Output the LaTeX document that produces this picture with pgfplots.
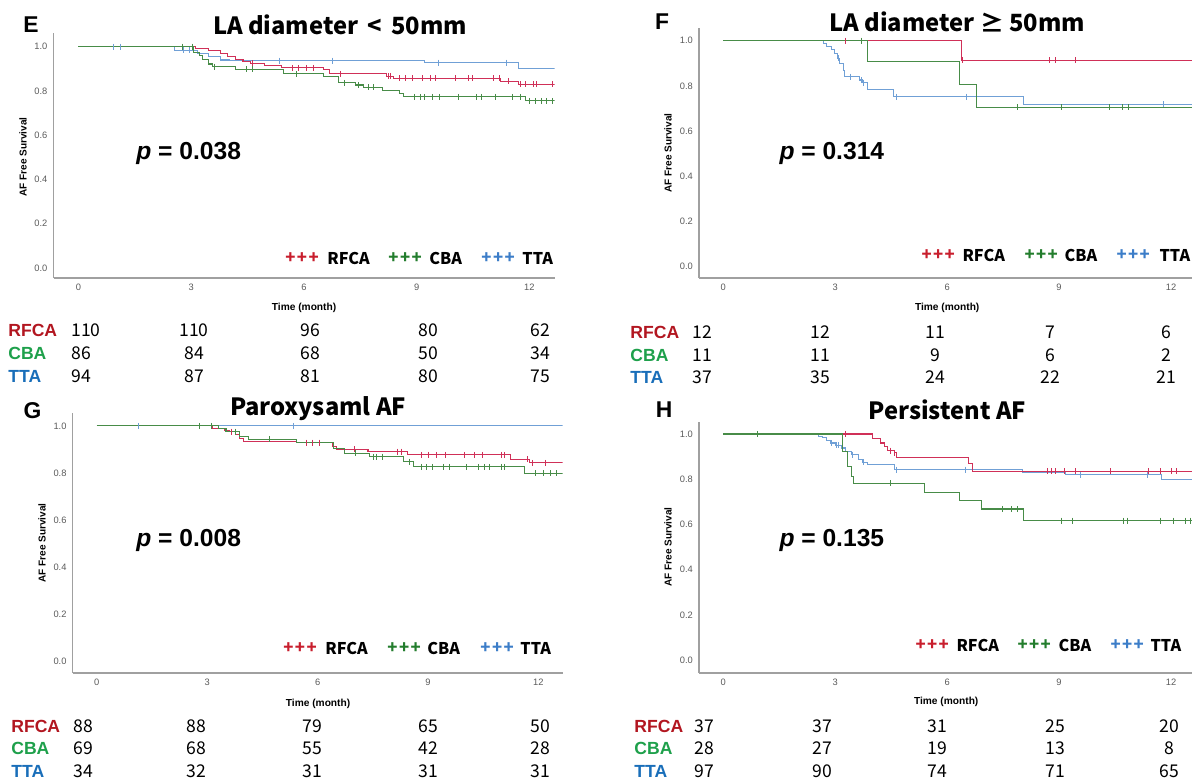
\documentclass[border=0pt]{standalone}
\usepackage{pgfplots}
\pgfplotsset{compat=1.18}
\usepackage{fontspec}
\setmainfont{Liberation Sans}
\newfontfamily\kfont{Noto Sans CJK KR}
\newcommand\fs[1]{\fontsize{#1}{#1}\selectfont}
\definecolor{lred}{RGB}{208,48,88}
\definecolor{lgreen}{RGB}{72,140,72}
\definecolor{lblue}{RGB}{112,160,214}
\definecolor{pred}{RGB}{200,30,45}
\definecolor{pgreen}{RGB}{35,125,45}
\definecolor{pblue}{RGB}{60,125,200}
\definecolor{tred}{RGB}{178,22,32}
\definecolor{tgreen}{RGB}{30,160,75}
\definecolor{tblue}{RGB}{25,110,185}
\definecolor{axgray}{RGB}{160,160,160}
\definecolor{tickgray}{RGB}{90,90,90}
\pgfplotsset{
 km/.style={scale only axis, anchor=south west, axis lines=left,
   axis line style={-, draw=axgray, line width=0.9pt},
   every outer x axis line/.append style={-}, every outer y axis line/.append style={-},
   xtick={0,3,6,9,12}, ytick={0,0.2,0.4,0.6,0.8,1},
   major tick length=0pt,
   tick label style={font=\fs{5.3}, text=tickgray},
   /pgf/number format/assume math mode=true,
   yticklabel style={/pgf/number format/fixed, /pgf/number format/fixed zerofill, /pgf/number format/precision=1}},
 kml/.style={const plot, line width=0.6pt, no marks},
 cens/.style={only marks, mark=|, mark size=1.7pt, mark options={line width=0.5pt}},
}
\newcommand\rrow[8]{%
 \node[anchor=west, font=\fs{10}\bfseries, text=#3] at (\lx,#1) {#2};
 \node[anchor=west, font=\kfont\fs{10}] at (\cA,#1) {#4};
 \node[font=\kfont\fs{10}] at (\cB,#1) {#5};
 \node[font=\kfont\fs{10}] at (\cC,#1) {#6};
 \node[font=\kfont\fs{10}] at (\cD,#1) {#7};
 \node[font=\kfont\fs{10}] at (\cE,#1) {#8};}
\newcommand\lgd[7]{%
 \node[anchor=west,text=pred,font=\kfont\fs{9.5}\bfseries] at (#2,#1) {+\kern0.8pt+\kern0.8pt+};
 \node[anchor=west,font=\kfont\fs{9.2}\bfseries] at (#3,#1) {RFCA};
 \node[anchor=west,text=pgreen,font=\kfont\fs{9.5}\bfseries] at (#4,#1) {+\kern0.8pt+\kern0.8pt+};
 \node[anchor=west,font=\kfont\fs{9.2}\bfseries] at (#5,#1) {CBA};
 \node[anchor=west,text=pblue,font=\kfont\fs{9.5}\bfseries] at (#6,#1) {+\kern0.8pt+\kern0.8pt+};
 \node[anchor=west,font=\kfont\fs{9.2}\bfseries] at (#7,#1) {TTA};}
\begin{document}
\begin{tikzpicture}
\path[use as bounding box] (0,0) rectangle (23.84cm,-15.64cm);
% ---------- E ----------
\begin{axis}[km, at={(1.072cm,-5.56cm)}, width=10.02cm, height=4.90cm, xmin=-0.66, xmax=12.67, ymin=-0.045, ymax=1.062]
\addplot[kml, lblue] coordinates {(0,1) (2.55,0.985) (3.16,0.970) (3.47,0.955) (3.77,0.940) (4.02,0.937) (9.21,0.928) (11.70,0.902) (12.67,0.902)};
\addplot[cens, lblue] coordinates {(0.92,1) (1.13,1) (2.80,0.985) (2.96,0.985) (5.35,0.937) (6.75,0.937) (9.59,0.928) (11.39,0.928)};
\addplot[kml, lred] coordinates {(0,1) (3.11,0.992) (3.47,0.985) (3.77,0.970) (3.97,0.955) (4.18,0.943) (4.38,0.932) (4.58,0.925) (4.94,0.916) (5.40,0.905) (6.51,0.895) (6.67,0.877) (8.19,0.867) (8.39,0.857) (11.24,0.845) (11.70,0.831) (12.67,0.831)};
\addplot[cens, lred] coordinates {(4.62,0.925) (5.70,0.905) (5.85,0.905) (6.06,0.905) (6.26,0.905) (6.97,0.877) (8.24,0.867) (8.29,0.867) (8.55,0.857) (8.70,0.857) (8.90,0.857) (9.16,0.857) (9.36,0.857) (9.51,0.857) (10.02,0.857) (10.38,0.857) (10.48,0.857) (11.04,0.857) (11.19,0.857) (11.44,0.845) (11.75,0.831) (11.90,0.831) (12.10,0.831) (12.20,0.831) (12.62,0.831)};
\addplot[kml, lgreen] coordinates {(0,1) (3.06,0.975) (3.21,0.962) (3.31,0.943) (3.47,0.922) (3.57,0.910) (4.18,0.898) (5.45,0.877) (6.51,0.864) (6.92,0.837) (7.38,0.827) (7.58,0.816) (8.09,0.804) (8.55,0.789) (8.65,0.774) (11.90,0.755) (12.67,0.755)};
\addplot[cens, lgreen] coordinates {(2.77,1) (3.03,1) (3.62,0.910) (4.48,0.898) (4.63,0.898) (5.80,0.877) (7.07,0.837) (7.45,0.827) (7.73,0.816) (7.84,0.816) (8.95,0.774) (9.11,0.774) (9.21,0.774) (9.41,0.774) (9.61,0.774) (10.12,0.774) (10.58,0.774) (10.73,0.774) (11.09,0.774) (11.54,0.774) (11.75,0.774) (12.00,0.755) (12.15,0.755) (12.31,0.755) (12.46,0.755) (12.61,0.755)};
\end{axis}
% ---------- F ----------
\begin{axis}[km, at={(13.98cm,-5.56cm)}, width=9.94cm, height=5.0cm, xmin=-0.65, xmax=12.67, ymin=-0.05, ymax=1.056]
\addplot[kml, lred] coordinates {(0,1) (6.38,0.914) (12.67,0.914)};
\addplot[cens, lred] coordinates {(3.27,1) (6.40,0.914) (8.74,0.914) (8.90,0.914) (9.43,0.914)};
\addplot[kml, lblue] coordinates {(0,1) (2.68,0.988) (2.77,0.974) (2.89,0.959) (2.99,0.944) (3.05,0.922) (3.12,0.900) (3.22,0.866) (3.25,0.841) (3.66,0.826) (3.73,0.814) (3.86,0.782) (4.57,0.752) (8.05,0.718) (12.67,0.718)};
\addplot[cens, lblue] coordinates {(3.08,0.922) (3.42,0.841) (3.71,0.826) (3.77,0.814) (4.64,0.752) (6.51,0.752) (11.80,0.718)};
\addplot[kml, lgreen] coordinates {(0,1) (3.86,0.906) (6.33,0.804) (6.79,0.705) (12.67,0.705)};
\addplot[cens, lgreen] coordinates {(3.70,1) (7.88,0.705) (9.07,0.705) (10.36,0.705) (10.69,0.705) (10.85,0.705)};
\end{axis}
% ---------- G ----------
\begin{axis}[km, at={(1.454cm,-13.46cm)}, width=9.80cm, height=5.2cm, xmin=-0.655, xmax=12.66, ymin=-0.048, ymax=1.055]
\addplot[kml, lblue] coordinates {(0,1) (12.66,1)};
\addplot[cens, lblue] coordinates {(1.12,1) (5.33,1)};
\addplot[kml, lred] coordinates {(0,1) (3.15,0.990) (3.46,0.980) (3.61,0.976) (3.77,0.962) (3.87,0.948) (3.98,0.934) (5.43,0.929) (6.40,0.912) (6.52,0.901) (7.37,0.891) (8.44,0.877) (11.25,0.859) (11.77,0.844) (12.66,0.844)};
\addplot[cens, lred] coordinates {(3.67,0.976) (5.69,0.929) (5.85,0.929) (6.05,0.929) (6.99,0.901) (8.18,0.891) (8.29,0.891) (8.81,0.877) (9.01,0.877) (9.22,0.877) (9.48,0.877) (10.0,0.877) (10.26,0.877) (10.47,0.877) (10.99,0.877) (11.09,0.877) (11.71,0.859) (11.84,0.844) (12.18,0.844)};
\addplot[kml, lgreen] coordinates {(0,1) (3.30,0.990) (3.51,0.976) (3.87,0.955) (4.13,0.943) (5.43,0.929) (6.42,0.905) (6.73,0.884) (7.40,0.870) (8.34,0.849) (8.60,0.827) (11.61,0.800) (12.66,0.800)};
\addplot[cens, lgreen] coordinates {(2.78,1) (3.12,1) (3.77,0.976) (4.70,0.943) (7.04,0.884) (7.51,0.870) (7.61,0.870) (7.77,0.870) (8.49,0.849) (8.81,0.827) (8.96,0.827) (9.12,0.827) (9.43,0.827) (9.58,0.827) (10.05,0.827) (10.36,0.827) (10.52,0.827) (10.67,0.827) (10.99,0.827) (11.09,0.827) (11.92,0.800) (12.13,0.800) (12.34,0.800) (12.49,0.800)};
\end{axis}
% ---------- H ----------
\begin{axis}[km, at={(13.98cm,-13.46cm)}, width=9.94cm, height=5.02cm, xmin=-0.65, xmax=12.67, ymin=-0.0575, ymax=1.053]
\addplot[kml, lblue] coordinates {(0,1) (2.54,0.990) (2.67,0.985) (2.77,0.970) (2.87,0.960) (3.02,0.951) (3.17,0.938) (3.28,0.924) (3.43,0.909) (3.63,0.886) (3.73,0.875) (3.86,0.864) (4.59,0.842) (8.02,0.830) (9.16,0.820) (11.74,0.798) (12.67,0.798)};
\addplot[cens, lblue] coordinates {(2.89,0.960) (3.04,0.951) (3.09,0.951) (3.45,0.909) (3.75,0.875) (4.65,0.842) (6.50,0.842) (9.56,0.820) (11.37,0.820)};
\addplot[kml, lred] coordinates {(0,1) (4.01,0.978) (4.21,0.960) (4.31,0.945) (4.41,0.926) (4.59,0.916) (4.65,0.894) (6.57,0.869) (6.67,0.835) (12.67,0.835)};
\addplot[cens, lred] coordinates {(3.28,1) (4.49,0.926) (4.60,0.916) (8.70,0.835) (8.80,0.835) (8.90,0.835) (9.14,0.835) (9.44,0.835) (10.38,0.835) (11.39,0.835) (11.72,0.835) (12.0,0.835) (12.15,0.835)};
\addplot[kml, lgreen] coordinates {(0,1) (3.19,0.923) (3.33,0.857) (3.43,0.810) (3.48,0.783) (5.39,0.742) (6.34,0.706) (6.93,0.668) (8.04,0.617) (12.67,0.617)};
\addplot[cens, lgreen] coordinates {(0.91,1) (4.47,0.783) (7.48,0.668) (7.72,0.668) (7.89,0.668) (9.06,0.617) (9.36,0.617) (10.73,0.617) (10.83,0.617) (11.72,0.617) (12.07,0.617) (12.38,0.617) (12.51,0.617)};
\end{axis}
% ---------- texts ----------
\begin{scope}[x=0.02cm,y=-0.02cm, every node/.style={inner sep=0pt}]
% panel letters & titles
\node[font=\fs{13}\bfseries] at (31,25) {E};
\node[font=\kfont\fs{13.5}\bfseries] at (340,25) {LA diameter \,<\, 50mm};
\node[font=\fs{13}\bfseries] at (662,22) {F};
\node[font=\kfont\fs{13.5}\bfseries] at (957,22) {LA diameter ≥ 50mm};
\node[font=\fs{13}\bfseries] at (32.5,411) {G};
\node[font=\kfont\fs{13.5}\bfseries] at (318,409) {Paroxysaml AF};
\node[font=\fs{13}\bfseries] at (664,410) {H};
\node[font=\kfont\fs{13.5}\bfseries] at (947,410) {Persistent AF};
% y labels
\node[rotate=90, font=\fs{5.7}\bfseries] at (23,157) {AF Free Survival};
\node[rotate=90, font=\fs{5.7}\bfseries] at (668,153) {AF Free Survival};
\node[rotate=90, font=\fs{5.7}\bfseries] at (42,543) {AF Free Survival};
\node[rotate=90, font=\fs{5.7}\bfseries] at (668,547) {AF Free Survival};
% x labels
\node[font=\fs{5.8}\bfseries] at (304,308) {Time (month)};
\node[font=\fs{5.8}\bfseries] at (947,308) {Time (month)};
\node[font=\fs{5.8}\bfseries] at (318,704) {Time (month)};
\node[font=\fs{5.8}\bfseries] at (946,702) {Time (month)};
% p values
\node[anchor=west, font=\fs{14}\bfseries] at (136,153) {\textit{p} = 0.038};
\node[anchor=west, font=\fs{14}\bfseries] at (779,153) {\textit{p} = 0.314};
\node[anchor=west, font=\fs{14}\bfseries] at (136,540) {\textit{p} = 0.008};
\node[anchor=west, font=\fs{14}\bfseries] at (779,540) {\textit{p} = 0.135};
% legends
\lgd{258}{285}{327}{388}{429}{481}{522}
\lgd{255}{921}{962}{1024}{1064}{1116}{1159}
\lgd{648}{283}{325}{387}{427}{480}{520}
\lgd{645}{915}{956}{1017}{1058}{1110}{1150}
% risk tables
\def\lx{8}\def\cA{71}\def\cB{194}\def\cC{310}\def\cD{428}\def\cE{540}
\rrow{330}{RFCA}{tred}{110}{110}{96}{80}{62}
\rrow{353}{CBA}{tgreen}{86}{84}{68}{50}{34}
\rrow{376}{TTA}{tblue}{94}{87}{81}{80}{75}
\def\lx{630}\def\cA{692}\def\cB{820}\def\cC{935}\def\cD{1050}\def\cE{1166}
\rrow{332}{RFCA}{tred}{12}{12}{11}{7}{6}
\rrow{355}{CBA}{tgreen}{11}{11}{9}{6}{2}
\rrow{377}{TTA}{tblue}{37}{35}{24}{22}{21}
\def\lx{11}\def\cA{73}\def\cB{196}\def\cC{312}\def\cD{428}\def\cE{540}
\rrow{726}{RFCA}{tred}{88}{88}{79}{65}{50}
\rrow{748}{CBA}{tgreen}{69}{68}{55}{42}{28}
\rrow{771}{TTA}{tblue}{34}{32}{31}{31}{31}
\def\lx{634}\def\cA{694}\def\cB{822}\def\cC{937}\def\cD{1055}\def\cE{1169}
\rrow{726}{RFCA}{tred}{37}{37}{31}{25}{20}
\rrow{748}{CBA}{tgreen}{28}{27}{19}{13}{8}
\rrow{771}{TTA}{tblue}{97}{90}{74}{71}{65}
\end{scope}
\end{tikzpicture}
\end{document}
